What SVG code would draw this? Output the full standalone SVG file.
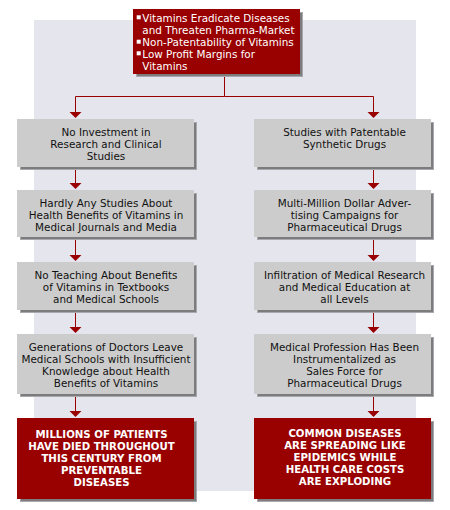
<svg xmlns="http://www.w3.org/2000/svg" width="450" height="510" viewBox="0 0 450 510">
<style>
.panel{fill:#e5e5ee}
.shadow{fill:#7c7c7c;stroke:#a8a8ae;stroke-width:1}
.gbox{fill:#cccccc}
.rbox{fill:#990000}
.gt{font-family:"DejaVu Sans",Verdana,sans-serif;font-size:10.4px;fill:#111;text-anchor:middle}
.rt{font-family:"DejaVu Sans",Verdana,sans-serif;font-size:10.2px;font-weight:bold;fill:#fff;text-anchor:middle}
.tt{font-family:"DejaVu Sans",Verdana,sans-serif;font-size:10.4px;fill:#fff}
.line{stroke:#990000;stroke-width:1;fill:none}
.head{fill:#990000}
</style>
<rect x="0" y="0" width="450" height="510" fill="#ffffff"/>
<rect class="panel" x="34" y="20" width="382" height="471"/>

<g id="connectors">
<path class="line" d="M224.5,74 V96.5 H75.5 V112 M224.5,96.5 H373.5 V112"/>
<polygon class="head" points="69.5,112 81.5,112 75.5,118"/>
<polygon class="head" points="367.5,112 379.5,112 373.5,118"/>
<path class="line" d="M75.5,167 V184 M75.5,237 V256 M75.5,310 V328 M75.5,394 V412"/>
<polygon class="head" points="69.5,183 81.5,183 75.5,189"/>
<polygon class="head" points="69.5,255 81.5,255 75.5,261"/>
<polygon class="head" points="69.5,327 81.5,327 75.5,333"/>
<polygon class="head" points="69.5,411 81.5,411 75.5,417"/>
<path class="line" d="M373.5,167 V184 M373.5,237 V256 M373.5,310 V328 M373.5,394 V412"/>
<polygon class="head" points="367.5,183 379.5,183 373.5,189"/>
<polygon class="head" points="367.5,255 379.5,255 373.5,261"/>
<polygon class="head" points="367.5,327 379.5,327 373.5,333"/>
<polygon class="head" points="367.5,411 379.5,411 373.5,417"/>
</g>

<g id="top">
<rect class="shadow" x="136.5" y="12.5" width="166" height="64"/>
<rect class="rbox" x="133" y="9" width="167" height="65"/>
<rect x="136.7" y="15.3" width="4" height="4" fill="#fff"/>
<rect x="136.7" y="39.7" width="4" height="4" fill="#fff"/>
<rect x="136.7" y="51.3" width="4" height="4" fill="#fff"/>
<text class="tt" x="142.3" y="21.5">Vitamins Eradicate Diseases</text>
<text class="tt" x="142.3" y="33.5">and Threaten Pharma-Market</text>
<text class="tt" x="142.3" y="45.5">Non-Patentability of Vitamins</text>
<text class="tt" x="142.3" y="57.5">Low Profit Margins for</text>
<text class="tt" x="142.3" y="69.5">Vitamins</text>
</g>

<g id="l1">
<rect class="shadow" x="20.5" y="122.5" width="176" height="47"/>
<rect class="gbox" x="17" y="119" width="177" height="48"/>
<text class="gt"><tspan x="106" y="136.3">No Investment in</tspan><tspan x="106" y="148.3">Research and Clinical</tspan><tspan x="106" y="160.3">Studies</tspan></text>
</g>
<g id="l2">
<rect class="shadow" x="20.5" y="193.5" width="176" height="46"/>
<rect class="gbox" x="17" y="190" width="177" height="47"/>
<text class="gt"><tspan x="106" y="206.5">Hardly Any Studies About</tspan><tspan x="106" y="218.5">Health Benefits of Vitamins in</tspan><tspan x="106" y="230.5">Medical Journals and Media</tspan></text>
</g>
<g id="l3">
<rect class="shadow" x="20.5" y="265.5" width="176" height="47"/>
<rect class="gbox" x="17" y="262" width="177" height="48"/>
<text class="gt"><tspan x="106" y="278.5">No Teaching About Benefits</tspan><tspan x="106" y="290.5">of Vitamins in Textbooks</tspan><tspan x="106" y="302.5">and Medical Schools</tspan></text>
</g>
<g id="l4">
<rect class="shadow" x="20.5" y="337.5" width="176" height="59"/>
<rect class="gbox" x="17" y="334" width="177" height="60"/>
<text class="gt"><tspan x="106" y="351">Generations of Doctors Leave</tspan><tspan x="106" y="363">Medical Schools with Insufficient</tspan><tspan x="106" y="375">Knowledge about Health</tspan><tspan x="106" y="387">Benefits of Vitamins</tspan></text>
</g>
<g id="l5">
<rect class="shadow" x="20.5" y="421.5" width="176" height="80"/>
<rect class="rbox" x="17" y="418" width="177" height="81"/>
<text class="rt"><tspan x="101.5" y="438.3">MILLIONS OF PATIENTS</tspan><tspan x="101.5" y="450.3">HAVE DIED THROUGHOUT</tspan><tspan x="101.5" y="462.3">THIS CENTURY FROM</tspan><tspan x="101.5" y="474.3">PREVENTABLE</tspan><tspan x="101.5" y="486.3">DISEASES</tspan></text>
</g>

<g id="r1">
<rect class="shadow" x="257.5" y="122.5" width="176" height="47"/>
<rect class="gbox" x="254" y="119" width="177" height="48"/>
<text class="gt"><tspan x="344.5" y="136.3">Studies with Patentable</tspan><tspan x="344.5" y="148.3">Synthetic Drugs</tspan></text>
</g>
<g id="r2">
<rect class="shadow" x="257.5" y="193.5" width="176" height="46"/>
<rect class="gbox" x="254" y="190" width="177" height="47"/>
<text class="gt"><tspan x="344.5" y="206.5">Multi-Million Dollar Adver-</tspan><tspan x="344.5" y="218.5">tising Campaigns for</tspan><tspan x="344.5" y="230.5">Pharmaceutical Drugs</tspan></text>
</g>
<g id="r3">
<rect class="shadow" x="257.5" y="265.5" width="176" height="47"/>
<rect class="gbox" x="254" y="262" width="177" height="48"/>
<text class="gt"><tspan x="344.5" y="279">Infiltration of Medical Research</tspan><tspan x="344.5" y="291">and Medical Education at</tspan><tspan x="344.5" y="303">all Levels</tspan></text>
</g>
<g id="r4">
<rect class="shadow" x="257.5" y="337.5" width="176" height="59"/>
<rect class="gbox" x="254" y="334" width="177" height="60"/>
<text class="gt"><tspan x="344.5" y="350.5">Medical Profession Has Been</tspan><tspan x="344.5" y="362.5">Instrumentalized as</tspan><tspan x="344.5" y="374.5">Sales Force for</tspan><tspan x="344.5" y="386.5">Pharmaceutical Drugs</tspan></text>
</g>
<g id="r5">
<rect class="shadow" x="257.5" y="421.5" width="176" height="80"/>
<rect class="rbox" x="254" y="418" width="177" height="81"/>
<text class="rt"><tspan x="345" y="437.3">COMMON DISEASES</tspan><tspan x="345" y="449">ARE SPREADING LIKE</tspan><tspan x="345" y="461">EPIDEMICS WHILE</tspan><tspan x="345" y="473">HEALTH CARE COSTS</tspan><tspan x="345" y="485">ARE EXPLODING</tspan></text>
</g>
</svg>
